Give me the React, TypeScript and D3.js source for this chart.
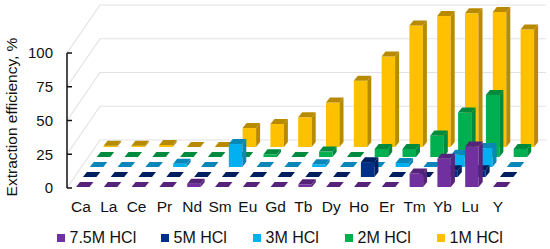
import React from "react";
import * as d3 from "d3";

const categories = ["Ca", "La", "Ce", "Pr", "Nd", "Sm", "Eu", "Gd", "Tb", "Dy", "Ho", "Er", "Tm", "Yb", "Lu", "Y"];
const seriesNames = ["7.5M HCl", "5M HCl", "3M HCl", "2M HCl", "1M HCl"];
const hcl75 = [0, 0, 0, 0, 2.5, 0, 0, 0, 2, 0, 0, 0, 10, 21, 30, 0];
const hcl5 = [0, 0, 0, 0, 0, 0, 0, 0, 0, 0, 11, 0, 0, 5, 5, 0];
const hcl3 = [0, 0, 0, 2.5, 0, 17, 0, 0, 2, 0, 0, 3, 0, 9, 14, 0];
const hcl2 = [0, 0, 0, 0, 0, 0, 2, 0, 4, 0, 6, 6, 16, 33, 46, 6];
const hcl1 = [1, 1, 1.5, 0, 0, 14, 17, 22, 33, 49, 67, 90, 97, 99, 100, 87];
const yTicks = [0, 25, 50, 75, 100];

const seriesValues = [hcl75, hcl5, hcl3, hcl2, hcl1];
const front = ["#7030A0", "#002F87", "#00B0F0", "#00B050", "#FFC000"];
const shade = ["#55247A", "#001F5E", "#0A86B8", "#008A3E", "#B88A00"];
const legendX = [57, 161, 253, 345, 437];

const font = "'Liberation Sans', Arial, sans-serif";
const textColor = "#111";

export default function App() {
  const barW = 13.5, skewX = 4, topH = 5;

  const x = d3.scalePoint<string>().domain(categories).range([76, 493]);
  const xOffset = d3.scalePoint<string>().domain(seriesNames).range([0, 27.6]);
  const rowY = d3.scalePoint<string>().domain(seriesNames).range([187, 147]);
  const y = d3.scaleLinear().domain([0, 100]).range([188, 53]);
  const barH = d3.scaleLinear().domain([0, 100]).range([0, 135]);
  const line = d3.line();

  const depthX = 33, depthY = 48, wallRight = 546, axisX = 67;

  // back row first so the front rows cover it
  const order = d3.range(seriesNames.length).reverse();

  return (
    <svg width={550} height={249} style={{ position: "absolute", left: 0, top: 0, background: "#fff" }} fontFamily={font}>
      {yTicks.map((t) => (
        <g key={t} fill="none" stroke="#e2e2e2" strokeWidth={1.2}>
          <path d={line([[axisX, y(t)], [axisX + depthX, y(t) - depthY], [wallRight, y(t) - depthY]]) as string} />
        </g>
      ))}

      <path d={line([[axisX, y(0)], [axisX, y(100)]]) as string} stroke="#111" strokeWidth={1.5} fill="none" />
      {yTicks.map((t) => (
        <g key={t}>
          <line x1={axisX} x2={axisX + 5} y1={y(t)} y2={y(t)} stroke="#111" strokeWidth={1.5} />
          <text x={53} y={y(t)} dy="0.36em" textAnchor="end" fontSize={15} fill={textColor}>{t}</text>
        </g>
      ))}

      {order.map((s) => {
        const name = seriesNames[s];
        return (
          <g key={name}>
            {categories.map((c, i) => {
              const x0 = (x(c) as number) + (xOffset(name) as number);
              const yb = rowY(name) as number;
              const yt = yb - barH(seriesValues[s][i]);
              const x1 = x0 + barW;
              return (
                <g key={c}>
                  <rect x={x0} y={yt} width={barW} height={yb - yt} fill={front[s]} />
                  <path d={(line([[x1, yt], [x1 + skewX, yt - topH], [x1 + skewX, yb - topH], [x1, yb]]) as string) + "Z"} fill={shade[s]} />
                  <path d={(line([[x0, yt], [x1, yt], [x1 + skewX, yt - topH], [x0 + skewX, yt - topH]]) as string) + "Z"} fill={shade[s]} />
                </g>
              );
            })}
          </g>
        );
      })}

      {categories.map((c) => (
        <text key={c} x={(x(c) as number) + 5} y={212} textAnchor="middle" fontSize={15.5} fill={textColor}>{c}</text>
      ))}

      <text transform="translate(17,117) rotate(-90)" textAnchor="middle" fontSize={15.5} fill={textColor}>Extraction efficiency, %</text>

      {seriesNames.map((name, s) => (
        <g key={name}>
          <rect x={legendX[s]} y={234} width={8} height={8} fill={front[s]} />
          <text x={legendX[s] + 12.5} y={243} fontSize={16} fill={textColor}>{name}</text>
        </g>
      ))}
    </svg>
  );
}
